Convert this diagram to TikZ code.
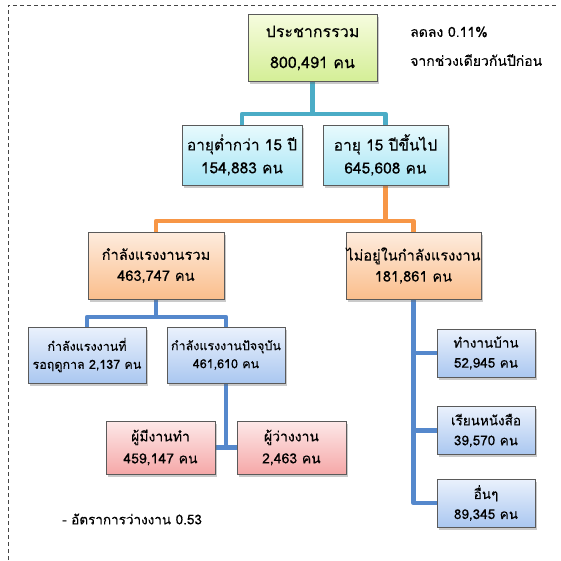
\documentclass[tikz,border=0pt]{standalone}
\usepackage{fontspec}
\setmainfont[Script=Thai,FakeBold=0.2]{Loma}
\usetikzlibrary{shadows,backgrounds}
\definecolor{framec}{HTML}{444444}
\definecolor{borderc}{HTML}{5A5A5A}
\definecolor{cyanl}{HTML}{4BACC6}
\definecolor{orangel}{HTML}{F79646}
\definecolor{bluel}{HTML}{5588CC}
\tikzset{
  box/.style={draw=borderc, line width=0.9pt, align=center, inner sep=0pt,
    drop shadow={shadow xshift=1.5pt, shadow yshift=-2.5pt, opacity=0.35, fill=black!60}},
  greenbox/.style={box, top color={rgb,255:red,246;green,252;blue,222}, bottom color={rgb,255:red,212;green,238;blue,150}},
  cyanbox/.style={box, top color={rgb,255:red,232;green,250;blue,253}, bottom color={rgb,255:red,165;green,228;blue,244}},
  orangebox/.style={box, top color={rgb,255:red,254;green,236;blue,222}, bottom color={rgb,255:red,250;green,190;blue,140}},
  bluebox/.style={box, top color={rgb,255:red,234;green,241;blue,252}, bottom color={rgb,255:red,170;green,199;blue,240}},
  pinkbox/.style={box, top color={rgb,255:red,253;green,232;blue,232}, bottom color={rgb,255:red,245;green,168;blue,168}},
  conn/.style={line width=4.5pt, line join=round},
  note/.style={anchor=west, inner sep=0pt, font=\fontsize{14}{16}\selectfont},
}
\begin{document}
\begin{tikzpicture}[x=1pt,y=-1pt]
\useasboundingbox (0,0) rectangle (561,560);
\draw[framec, line width=1pt, dash pattern=on 4pt off 3pt] (8,560) -- (8,5) -- (557,5);

\node[greenbox, minimum width=129pt, minimum height=67pt, font=\fontsize{16}{31}\selectfont] (top) at (312.5,48) {ประชากรรวม\\800,491 คน};
\node[note] (n1) at (410,32) {ลดลง 0.11\%};
\node[note] (n2) at (410,60) {จากช่วงเดียวกันปีก่อน};

\node[cyanbox, minimum width=120pt, minimum height=60pt, font=\fontsize{15.5}{23}\selectfont] (b1) at (242,155) {อายุต่ำกว่า 15 ปี\\154,883 คน};
\node[cyanbox, minimum width=125pt, minimum height=60pt, font=\fontsize{15.5}{23}\selectfont] (b2) at (385.5,155) {อายุ 15 ปีขึ้นไป\\645,608 คน};

\node[orangebox, minimum width=136pt, minimum height=67pt, font=\fontsize{14.6}{21}\selectfont] (b3) at (156,265.5) {กำลังแรงงานรวม\\463,747 คน};
\node[orangebox, minimum width=135pt, minimum height=67pt, font=\fontsize{14.6}{21}\selectfont] (b4) at (413.5,265.5) {ไม่อยู่ในกำลังแรงงาน\\181,861 คน};

\node[bluebox, minimum width=118pt, minimum height=56pt, font=\fontsize{12.5}{18}\selectfont] (b5) at (87,355) {กำลังแรงงานที่\\รอฤดูกาล 2,137 คน};
\node[bluebox, minimum width=118pt, minimum height=56pt, font=\fontsize{12.5}{18}\selectfont] (b6) at (226,355) {กำลังแรงงานปัจจุบัน\\461,610 คน};

\node[pinkbox, minimum width=109pt, minimum height=53pt, font=\fontsize{14}{22}\selectfont] (b7) at (160.5,447.5) {ผู้มีงานทำ\\459,147 คน};
\node[pinkbox, minimum width=109pt, minimum height=53pt, font=\fontsize{14}{22}\selectfont] (b8) at (291.5,447.5) {ผู้ว่างงาน\\2,463 คน};

\node[bluebox, minimum width=98pt, minimum height=48pt, font=\fontsize{13.5}{20}\selectfont] (b9) at (486,353) {ทำงานบ้าน\\52,945 คน};
\node[bluebox, minimum width=98pt, minimum height=48pt, font=\fontsize{13.5}{20}\selectfont] (b10) at (486,430.5) {เรียนหนังสือ\\39,570 คน};
\node[bluebox, minimum width=98pt, minimum height=48pt, font=\fontsize{13.5}{20}\selectfont] (b11) at (486,503) {อื่นๆ\\89,345 คน};

\node[note, font=\fontsize{13.5}{16}\selectfont] (rate) at (62,519) {- อัตราการว่างงาน 0.53};

\coordinate (j1) at (312,114);
\coordinate (j2) at (384,221);
\coordinate (j3) at (156,317);
\coordinate (j4) at (226,447.5);
\coordinate (j5) at (414,503);

\begin{pgfonlayer}{background}
\draw[conn, cyanl] (top.south) -- (top.south |- j1) -| (b1.north);
\draw[conn, cyanl] (top.south |- j1) -| (b2.north);
\draw[conn, orangel] (b2.south) -- (b2.south |- j2) -| (b3.north);
\draw[conn, orangel] (b2.south |- j2) -| (b4.north);
\draw[conn, bluel] (b3.south) -- (b3.south |- j3) -| (b5.north);
\draw[conn, bluel] (b3.south |- j3) -| (b6.north);
\draw[conn, bluel] (b6.south) -- (b6.south |- j4);
\draw[conn, bluel] (b7.east) -- (b8.west);
\draw[conn, bluel] (b4.south) -- (b4.south |- j5) -- (b11.west);
\draw[conn, bluel] (b4.south |- b9.west) -- (b9.west);
\draw[conn, bluel] (b4.south |- b10.west) -- (b10.west);
\end{pgfonlayer}
\end{tikzpicture}
\end{document}
